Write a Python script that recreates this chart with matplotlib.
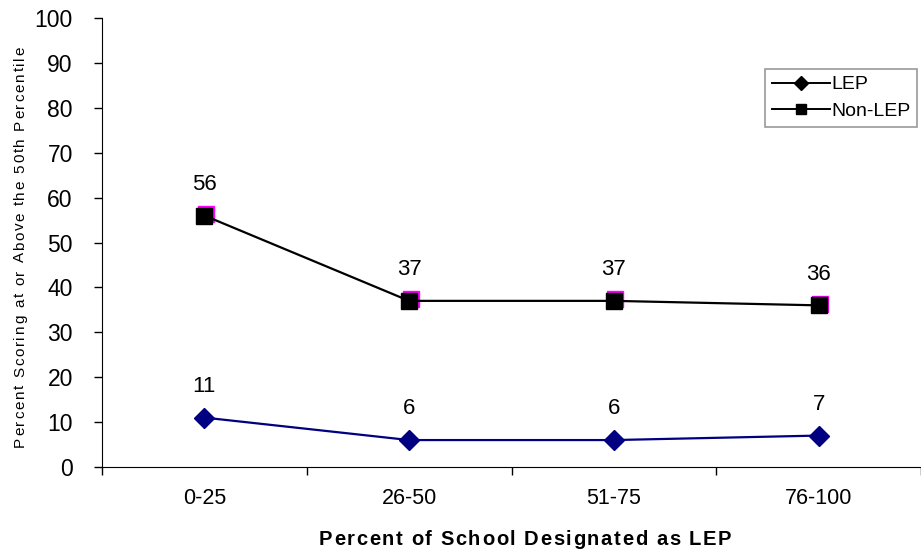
import matplotlib
matplotlib.use('Agg')
import matplotlib.pyplot as plt
import matplotlib.transforms as mtransforms
from matplotlib.font_manager import FontProperties
import numpy as np

categories = ['0-25', '26-50', '51-75', '76-100']
lep = [11, 6, 6, 7]
non_lep = [56, 37, 37, 36]

FONT = ['Liberation Sans', 'DejaVu Sans']
plt.rcParams['font.family'] = FONT

W, H = 921, 557
fig = plt.figure(figsize=(W / 100, H / 100), dpi=100)
ax = fig.add_axes([102 / W, 90 / H, (W - 102) / W, 449 / H])


def tracked_text(x, y, s, size, tracking, weight='normal', vertical=False):
    """Draw s char by char with extra letter spacing; (x, y) is the
    centre of the baseline in figure pixels."""
    r = fig.canvas.get_renderer()
    fp = FontProperties(family=FONT, size=size, weight=weight)

    def width(c):
        if c == ' ':
            a = r.get_text_width_height_descent('a a', fp, ismath=False)[0]
            b = r.get_text_width_height_descent('aa', fp, ismath=False)[0]
            return a - b
        return r.get_text_width_height_descent(c, fp, ismath=False)[0]

    widths = [width(c) for c in s]
    pos = -(sum(widths) + tracking * (len(s) - 1)) / 2
    for c, w in zip(s, widths):
        if vertical:
            fig.text(x / W, (y + pos) / H, c, fontproperties=fp, rotation=90,
                     rotation_mode='anchor', ha='left', va='baseline')
        else:
            fig.text((x + pos) / W, y / H, c, fontproperties=fp,
                     ha='left', va='baseline')
        pos += w + tracking


x = np.arange(len(categories))
ax.plot(x, lep, color='#000080', lw=1.6, marker='D', ms=10,
        mfc='#000080', mec='#000080', label='LEP', zorder=3)

# magenta shadow behind the squares
shadow = mtransforms.offset_copy(ax.transData, fig=fig, x=1.5, y=1.5, units='dots')
ax.plot(x, non_lep, ls='none', marker='s', ms=12, mfc='#ff00ff', mec='#ff00ff',
        transform=shadow, zorder=2)
ax.plot(x, non_lep, color='black', lw=1.6, marker='s', ms=12,
        mfc='black', mec='black', label='Non-LEP', zorder=3)

for series in (lep, non_lep):
    for xi, v in zip(x, series):
        ax.annotate(str(v), (xi, v), xytext=(0, 15), textcoords='offset points',
                    ha='center', va='bottom', fontsize=16)

ax.set_ylim(0, 100)
ax.set_yticks(range(0, 101, 10))
ax.set_xlim(-0.5, -0.5 + (W - 102) / 208)
ax.set_xticks(x)
ax.set_xticklabels(categories, fontsize=15.5)
ax.set_xticks(np.arange(-0.5, 4, 1), minor=True)
ax.tick_params(axis='x', which='major', length=0, pad=15)
ax.tick_params(axis='x', which='minor', length=6, width=1, direction='out')
ax.tick_params(axis='y', labelsize=16.5, length=6, width=1, direction='out', pad=15)
for s in ['top', 'right']:
    ax.spines[s].set_visible(False)

tracked_text(24, 310, 'Percent Scoring at or Above the 50th Percentile',
             11, 1.7, vertical=True)
tracked_text(525, 12, 'Percent of School Designated as LEP',
             14.5, 1.6, weight='bold')

leg = ax.legend(loc='upper left', bbox_to_anchor=(765 / W, 1 - 69 / H),
                bbox_transform=fig.transFigure, borderaxespad=0, fontsize=14,
                frameon=True, fancybox=False, handlelength=3.0,
                handletextpad=0.05, borderpad=0.35, labelspacing=0.45)
leg.get_frame().set_edgecolor('#808080')
leg.get_frame().set_linewidth(1.2)
for h in leg.legend_handles:
    h.set_markersize(7)
    h.set_linewidth(1.4)
    h.set_color('black')
    h.set_markerfacecolor('black')
    h.set_markeredgecolor('black')

fig.savefig('out.png', dpi=100)
